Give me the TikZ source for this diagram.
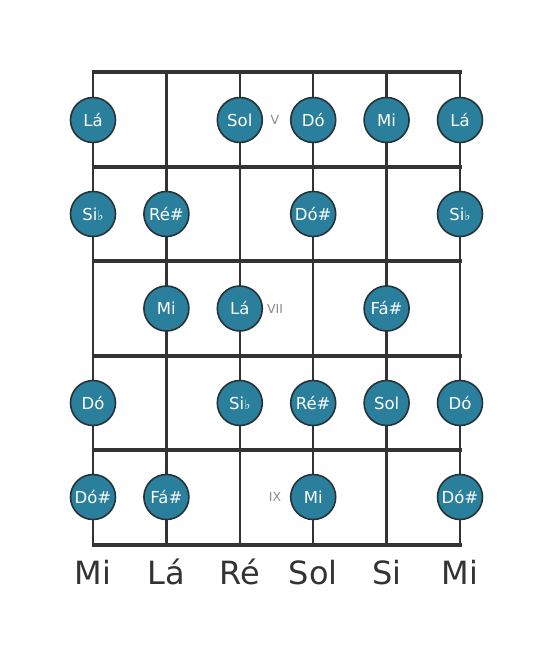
\documentclass[tikz,border=0pt]{standalone}
\usepackage{fontspec}
\setmainfont{DejaVu Sans}
\definecolor{notefill}{HTML}{2A809C}
\definecolor{noteedge}{HTML}{263238}
\definecolor{linecol}{HTML}{333333}
\definecolor{fretlab}{HTML}{8A8A8A}
\tikzset{
  note/.style={circle, fill=notefill, draw=noteedge, line width=1.6pt, minimum size=45pt, inner sep=0pt, text=white, font=\fontsize{16.5}{17}\selectfont},
  stringline/.style={draw=linecol, line width=2.4pt},
  fretline/.style={draw=linecol, line width=4pt},
  fretnum/.style={text=fretlab, font=\fontsize{12.5}{13}\selectfont},
  openlab/.style={text=linecol, font=\fontsize{32}{32}\selectfont, anchor=base}
}
\newcommand{\flt}{{\fontsize{13}{13}\selectfont ♭}}
\begin{document}
\begin{tikzpicture}[x=1pt,y=-1pt]
\useasboundingbox (0,0) rectangle (553,656);
% strings
\foreach \sx in {93,166.4,239.8,313.2,386.6,460}{
  \draw[stringline] (\sx,72) -- (\sx,544.5);
}
% frets
\foreach \fy in {72,166.5,261,355.5,450,544.5}{
  \draw[fretline] (91.5,\fy) -- (461.5,\fy);
}
% fret numbers
\node[fretnum] (f5) at (275,120) {V};
\node[fretnum] (f7) at (275,308.5) {VII};
\node[fretnum] (f9) at (275,497) {IX};
% row 1
\node[note] (n11) at (93,120) {Lá};
\node[note] (n13) at (239.8,120) {Sol};
\node[note] (n14) at (313.2,120) {Dó};
\node[note] (n15) at (386.6,120) {Mi};
\node[note] (n16) at (460,120) {Lá};
% row 2
\node[note] (n21) at (93,214) {Si\flt};
\node[note] (n22) at (166.4,214) {Ré\#};
\node[note] (n24) at (313.2,214) {Dó\#};
\node[note] (n26) at (460,214) {Si\flt};
% row 3
\node[note] (n32) at (166.4,308.5) {Mi};
\node[note] (n33) at (239.8,308.5) {Lá};
\node[note] (n35) at (386.6,308.5) {Fá\#};
% row 4
\node[note] (n41) at (93,403) {Dó};
\node[note] (n43) at (239.8,403) {Si\flt};
\node[note] (n44) at (313.2,403) {Ré\#};
\node[note] (n45) at (386.6,403) {Sol};
\node[note] (n46) at (460,403) {Dó};
% row 5
\node[note] (n51) at (93,497) {Dó\#};
\node[note] (n52) at (166.4,497) {Fá\#};
\node[note] (n54) at (313.2,497) {Mi};
\node[note] (n56) at (460,497) {Dó\#};
% open string names
\node[openlab] (o1) at (93,584) {Mi};
\node[openlab] (o2) at (166.4,584) {Lá};
\node[openlab] (o3) at (239.8,584) {Ré};
\node[openlab] (o4) at (313.2,584) {Sol};
\node[openlab] (o5) at (386.6,584) {Si};
\node[openlab] (o6) at (460,584) {Mi};
\end{tikzpicture}
\end{document}
